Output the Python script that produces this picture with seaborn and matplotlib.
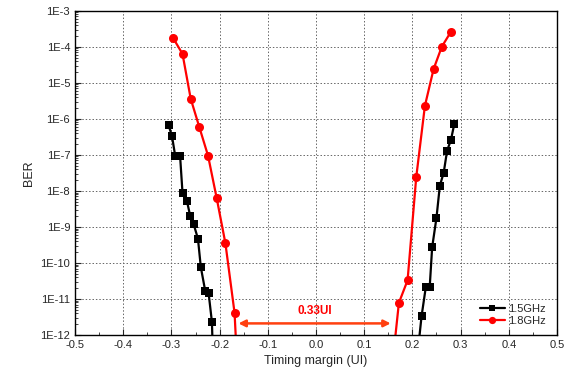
import seaborn as sns
import matplotlib
matplotlib.use("Agg")
from matplotlib import pyplot as plt
from matplotlib.ticker import LogLocator, MultipleLocator
import pandas as pd
import numpy as np

# 1.5GHz, left and right edges of the eye (last point of each sits below 1E-12, clipped)
ber15_left_x = [-0.306, -0.299, -0.292, -0.282, -0.277, -0.268, -0.261, -0.254, -0.245,
                -0.239, -0.230, -0.223, -0.216, -0.213]
ber15_left_y = [6.6e-7, 3.4e-7, 9.0e-8, 9.0e-8, 8.7e-9, 5.3e-9, 2.0e-9, 1.2e-9, 4.7e-10,
                7.6e-11, 1.7e-11, 1.5e-11, 2.3e-12, 1e-13]
ber15_right_x = [0.207, 0.219, 0.228, 0.236, 0.241, 0.250, 0.257, 0.265, 0.272, 0.280, 0.287]
ber15_right_y = [1e-13, 3.3e-12, 2.2e-11, 2.2e-11, 2.7e-10, 1.8e-9, 1.4e-8, 3.2e-8, 1.3e-7,
                 2.6e-7, 7.2e-7]

# 1.8GHz
ber18_left_x = [-0.296, -0.277, -0.260, -0.242, -0.224, -0.206, -0.188, -0.169, -0.163]
ber18_left_y = [1.7e-4, 6.3e-5, 3.6e-6, 5.8e-7, 9.4e-8, 6.2e-9, 3.5e-10, 4.1e-12, 1e-13]
ber18_right_x = [0.157, 0.172, 0.190, 0.208, 0.226, 0.244, 0.261, 0.280]
ber18_right_y = [1e-13, 7.8e-12, 3.3e-11, 2.4e-8, 2.3e-6, 2.4e-5, 1.0e-4, 2.6e-4]

series = [
    ("1.5GHz", "left", ber15_left_x, ber15_left_y),
    ("1.5GHz", "right", ber15_right_x, ber15_right_y),
    ("1.8GHz", "left", ber18_left_x, ber18_left_y),
    ("1.8GHz", "right", ber18_right_x, ber18_right_y),
]
rows = []
for freq, side, xs, ys in series:
    for x, y in zip(xs, ys):
        rows.append({"margin": x, "ber": y, "freq": freq, "side": side})
df = pd.DataFrame(rows)

sns.set_style("ticks")
plt.rcParams["font.family"] = ["Liberation Sans", "DejaVu Sans"]

fig = plt.figure(figsize=(5.73, 3.82), dpi=100)
ax = fig.add_axes([0.131, 0.123, 0.841, 0.849])

colors = {"1.5GHz": "black", "1.8GHz": "red"}
markers = {"1.5GHz": "s", "1.8GHz": "o"}
msizes = {"1.5GHz": 5.5, "1.8GHz": 6.5}
for freq in ["1.5GHz", "1.8GHz"]:
    for side in ["left", "right"]:
        d = df[(df.freq == freq) & (df.side == side)]
        sns.lineplot(data=d, x="margin", y="ber", ax=ax, sort=False, estimator=None,
                     color=colors[freq], marker=markers[freq], markersize=msizes[freq],
                     markeredgewidth=0, linewidth=1.6,
                     label=freq if side == "left" else None)

ax.set_yscale("log")
ax.set_xlim(-0.5, 0.5)
ax.set_ylim(1e-12, 1e-3)

ax.xaxis.set_major_locator(MultipleLocator(0.1))
ax.xaxis.set_minor_locator(MultipleLocator(0.05))
ax.set_xticklabels([f"{v:.1f}" for v in ax.get_xticks()])
ax.yaxis.set_major_locator(LogLocator(base=10, numticks=20))
ax.yaxis.set_minor_locator(LogLocator(base=10, subs=np.arange(2, 10), numticks=20))
ax.yaxis.set_major_formatter(matplotlib.ticker.FuncFormatter(lambda v, p: f"1E{int(round(np.log10(v)))}"))
ax.yaxis.set_minor_formatter(matplotlib.ticker.NullFormatter())
ax.tick_params(which="both", direction="in", labelsize=8, top=False, right=False)
ax.tick_params(which="major", length=4)
ax.tick_params(which="minor", length=2)

ax.grid(True, which="major", linestyle=(0, (1.5, 2)), color="#666666", linewidth=0.7)
for s in ax.spines.values():
    s.set_linewidth(1.0)
    s.set_color("black")

ax.set_xlabel("Timing margin (UI)", fontsize=9)
ax.set_ylabel("BER", fontsize=9)

ax.annotate("", xy=(-0.161, 2.1e-12), xytext=(0.155, 2.1e-12),
            arrowprops=dict(arrowstyle="<|-|>", color="#ff4010", lw=1.8,
                            mutation_scale=10, shrinkA=0, shrinkB=0))
ax.text(-0.002, 4.5e-12, "0.33UI", color="red", fontsize=8.5, fontweight="bold",
        ha="center", va="center")

ax.legend(loc="lower right", bbox_to_anchor=(0.995, 0.0), frameon=False, fontsize=8,
          handlelength=2.2, handletextpad=0.3, borderaxespad=0.4, labelspacing=0.2,
          markerscale=0.8)

fig.savefig("out.png", dpi=100)
